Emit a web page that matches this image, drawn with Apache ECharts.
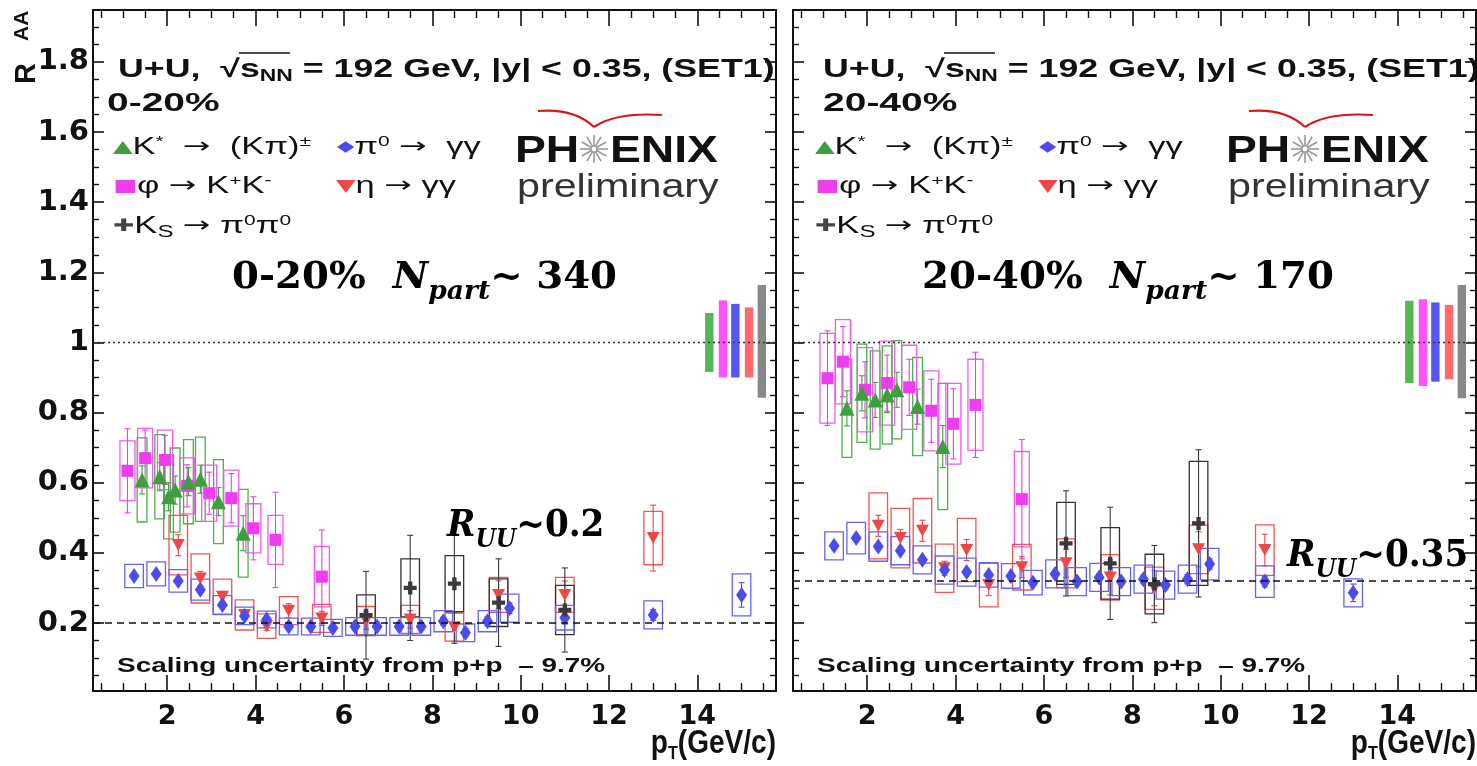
<!DOCTYPE html>
<html><head><meta charset="utf-8">
<script src="https://cdn.jsdelivr.net/npm/echarts@6/dist/echarts.min.js"></script>
<style>html,body{margin:0;padding:0;background:#fff}#c{width:1477px;height:766px}</style>
</head><body><div id="c"></div>
<script>
// ---------------- DATA ----------------
const ptTickLabels = [2, 4, 6, 8, 10, 12, 14];
const raaTickLabels = [0.2, 0.4, 0.6, 0.8, 1, 1.2, 1.4, 1.6, 1.8];
const refLines = [0.2, 0.32];          // dashed R_UU levels (0-20%, 20-40%)

// ---- 0-20% ----
const kstarX_a = [1.43, 1.83, 2.03, 2.18, 2.48, 2.75, 3.16, 3.72];
const kstarY_a = [0.608, 0.617, 0.56, 0.579, 0.603, 0.61, 0.546, 0.456];
const kstarStat_a = [0.04, 0.04, 0.04, 0.04, 0.04, 0.04, 0.04, 0.05];
const kstarSys_a = [0.12, 0.12, 0.12, 0.12, 0.12, 0.12, 0.12, 0.125];

const phiX_a = [1.1, 1.5, 1.95, 2.45, 2.95, 3.45, 3.95, 4.45, 5.5];
const phiY_a = [0.634, 0.67, 0.665, 0.591, 0.57, 0.556, 0.47, 0.437, 0.332];
const phiStat_a = [0.12, 0.08, 0.07, 0.06, 0.06, 0.07, 0.09, 0.136, 0.133];
const phiSys_a = [0.085, 0.085, 0.085, 0.08, 0.08, 0.08, 0.07, 0.07, 0.086];

const pi0X_a = [1.25, 1.75, 2.25, 2.75, 3.25, 3.75, 4.25, 4.75, 5.25, 5.75, 6.25, 6.75, 7.25, 7.75, 8.25, 8.75, 9.25, 9.75, 11, 13, 15];
const pi0Y_a = [0.334, 0.34, 0.32, 0.295, 0.251, 0.22, 0.21, 0.19, 0.19, 0.186, 0.19, 0.19, 0.19, 0.19, 0.205, 0.172, 0.205, 0.242, 0.215, 0.223, 0.28];
const pi0Stat_a = [0.004, 0.004, 0.004, 0.004, 0.004, 0.004, 0.005, 0.005, 0.006, 0.006, 0.007, 0.008, 0.009, 0.01, 0.011, 0.012, 0.013, 0.015, 0.018, 0.015, 0.035];
const pi0Sys_a = [0.033, 0.034, 0.032, 0.03, 0.027, 0.025, 0.024, 0.024, 0.024, 0.024, 0.025, 0.025, 0.025, 0.025, 0.03, 0.025, 0.03, 0.04, 0.035, 0.04, 0.06];

const etaX_a = [2.25, 2.75, 3.25, 3.75, 4.25, 4.75, 5.5, 6.5, 7.5, 8.5, 9.5, 11, 13];
const etaY_a = [0.422, 0.327, 0.275, 0.223, 0.191, 0.235, 0.213, 0.207, 0.21, 0.188, 0.28, 0.28, 0.442];
const etaStat_a = [0.03, 0.02, 0.015, 0.012, 0.012, 0.02, 0.02, 0.025, 0.025, 0.04, 0.04, 0.04, 0.094];
const etaSys_a = [0.085, 0.07, 0.05, 0.043, 0.035, 0.04, 0.04, 0.04, 0.04, 0.04, 0.05, 0.05, 0.076];

const ksX_a = [6.5, 7.5, 8.5, 9.5, 11];
const ksY_a = [0.222, 0.30, 0.312, 0.258, 0.237];
const ksStat_a = [0.125, 0.15, 0.17, 0.125, 0.12];
const ksSys_a = [0.058, 0.083, 0.08, 0.068, 0.07];

// global (normalisation) uncertainty bands near R=1
const globX_a = [14.27, 14.58, 14.86, 15.17, 15.46];
const globLo_a = [0.916, 0.90, 0.90, 0.90, 0.842];
const globHi_a = [1.084, 1.12, 1.11, 1.10, 1.164];

// ---- 20-40% ----
const kstarX_b = [1.54, 1.88, 2.18, 2.45, 2.67, 3.14, 3.71];
const kstarY_b = [0.812, 0.855, 0.836, 0.85, 0.865, 0.817, 0.703];
const kstarStat_b = [0.05, 0.05, 0.05, 0.05, 0.05, 0.05, 0.06];
const kstarSys_b = [0.14, 0.14, 0.14, 0.14, 0.14, 0.14, 0.18];

const phiX_b = [1.1, 1.45, 1.95, 2.45, 2.95, 3.45, 3.95, 4.45, 5.5];
const phiY_b = [0.898, 0.945, 0.865, 0.884, 0.872, 0.805, 0.768, 0.822, 0.553];
const phiStat_b = [0.135, 0.1, 0.08, 0.08, 0.08, 0.09, 0.1, 0.15, 0.17];
const phiSys_b = [0.128, 0.12, 0.12, 0.12, 0.12, 0.114, 0.115, 0.13, 0.136];

const pi0X_b = [1.25, 1.75, 2.25, 2.75, 3.25, 3.75, 4.25, 4.75, 5.25, 5.75, 6.25, 6.75, 7.25, 7.75, 8.25, 8.75, 9.25, 9.75, 11, 13];
const pi0Y_b = [0.42, 0.442, 0.418, 0.406, 0.38, 0.351, 0.345, 0.337, 0.334, 0.315, 0.34, 0.318, 0.33, 0.318, 0.325, 0.308, 0.325, 0.368, 0.318, 0.286];
const pi0Stat_b = [0.004, 0.004, 0.004, 0.004, 0.004, 0.005, 0.005, 0.005, 0.006, 0.006, 0.007, 0.008, 0.009, 0.01, 0.011, 0.012, 0.013, 0.015, 0.015, 0.025];
const pi0Sys_b = [0.04, 0.045, 0.042, 0.04, 0.04, 0.04, 0.04, 0.035, 0.035, 0.035, 0.04, 0.04, 0.04, 0.04, 0.04, 0.04, 0.04, 0.045, 0.045, 0.04];

const etaX_b = [2.25, 2.75, 3.25, 3.75, 4.25, 4.75, 5.5, 6.5, 7.5, 8.5, 9.5, 11];
const etaY_b = [0.477, 0.442, 0.463, 0.356, 0.408, 0.308, 0.359, 0.37, 0.33, 0.299, 0.41, 0.408];
const etaStat_b = [0.03, 0.025, 0.03, 0.02, 0.03, 0.03, 0.03, 0.04, 0.05, 0.05, 0.05, 0.045];
const etaSys_b = [0.094, 0.085, 0.092, 0.069, 0.09, 0.062, 0.065, 0.07, 0.065, 0.06, 0.069, 0.072];

const ksX_b = [6.5, 7.5, 8.5, 9.5];
const ksY_b = [0.427, 0.37, 0.311, 0.484];
const ksStat_b = [0.15, 0.16, 0.11, 0.21];
const ksSys_b = [0.117, 0.102, 0.085, 0.177];

const globX_b = [14.27, 14.58, 14.86, 15.17, 15.46];
const globLo_b = [0.884, 0.876, 0.888, 0.895, 0.841];
const globHi_b = [1.119, 1.123, 1.114, 1.107, 1.164];

// ---------------- STYLE / BUILD ----------------
const X_MIN = 0.32, X_MAX = 15.78, Y_MIN = 0.006, Y_MAX = 1.948;
const grids = [
  {left: 93, top: 10, width: 683, height: 681},
  {left: 793, top: 10, width: 683, height: 681}
];
const C = {
  kstar: '#3f9f3f', kstarBox: '#4fae4f',
  phi: '#ee3cee', phiBox: '#f25af2',
  pi0: '#4c4cee', pi0Box: '#6464f4',
  eta: '#f04646', etaBox: '#f25454',
  ks: '#3a3a3a', ksBox: '#333333'
};
const globColors = ['#55b655', '#ff52ff', '#5656f6', '#ff6a6a', '#888888'];

const xMinor = [], yMinor = [];
for (let i = 1; i <= 31; i++) { const v = i * 0.5; if (v % 2 !== 0) xMinor.push(v); }
for (let i = 1; i <= 38; i++) { const v = Math.round(i * 5) / 100; if (Math.round(v * 100) % 20 !== 0) yMinor.push(v); }

const XL_FONT = {fontFamily: 'DejaVu Sans', fontWeight: 'bold', fontSize: 27, color: '#111'};
const YL_FONT = {fontFamily: 'DejaVu Sans', fontWeight: 'bold', fontSize: 29, color: '#111'};
const xAxes = [], yAxes = [];
grids.forEach((g, gi) => {
  const base = {gridIndex: gi, type: 'value', min: X_MIN, max: X_MAX, splitLine: {show: false}};
  xAxes.push(Object.assign({}, base, {position: 'bottom',
    axisLine: {show: true, lineStyle: {color: '#111', width: 2}},
    axisTick: {show: true, inside: true, length: 16, customValues: ptTickLabels, lineStyle: {color: '#111', width: 1.6}},
    axisLabel: {show: true, customValues: ptTickLabels, margin: 12, ...XL_FONT}}));
  xAxes.push(Object.assign({}, base, {position: 'bottom', axisLine: {show: false},
    axisTick: {show: true, inside: true, length: 8, customValues: xMinor, lineStyle: {color: '#111', width: 1.4}},
    axisLabel: {show: false}}));
  xAxes.push(Object.assign({}, base, {position: 'top',
    axisLine: {show: true, lineStyle: {color: '#111', width: 2}},
    axisTick: {show: true, inside: true, length: 16, customValues: ptTickLabels, lineStyle: {color: '#111', width: 1.6}},
    axisLabel: {show: false}}));
  xAxes.push(Object.assign({}, base, {position: 'top', axisLine: {show: false},
    axisTick: {show: true, inside: true, length: 8, customValues: xMinor, lineStyle: {color: '#111', width: 1.4}},
    axisLabel: {show: false}}));
  const yb = {gridIndex: gi, type: 'value', min: Y_MIN, max: Y_MAX, splitLine: {show: false}};
  yAxes.push(Object.assign({}, yb, {position: 'left',
    axisLine: {show: true, lineStyle: {color: '#111', width: 2}},
    axisTick: {show: true, inside: true, length: 11, customValues: raaTickLabels, lineStyle: {color: '#111', width: 1.6}},
    axisLabel: {show: gi === 0, customValues: raaTickLabels, margin: 4, ...YL_FONT}}));
  yAxes.push(Object.assign({}, yb, {position: 'left', axisLine: {show: false},
    axisTick: {show: true, inside: true, length: 6, customValues: yMinor, lineStyle: {color: '#111', width: 1.4}},
    axisLabel: {show: false}}));
  yAxes.push(Object.assign({}, yb, {position: 'right',
    axisLine: {show: true, lineStyle: {color: '#111', width: 2}},
    axisTick: {show: true, inside: true, length: 11, customValues: raaTickLabels, lineStyle: {color: '#111', width: 1.6}},
    axisLabel: {show: false}}));
  yAxes.push(Object.assign({}, yb, {position: 'right', axisLine: {show: false},
    axisTick: {show: true, inside: true, length: 6, customValues: yMinor, lineStyle: {color: '#111', width: 1.4}},
    axisLabel: {show: false}}));
});

function zip4(x, y, s, e) { return x.map((v, i) => [v, y[i], s[i], e[i]]); }

function boxSeries(gi, data, hw, color, boxColor) {
  return {
    type: 'custom', xAxisIndex: gi * 4, yAxisIndex: gi * 4, z: 2, clip: true, silent: true,
    data: data,
    renderItem: function (params, api) {
      const x = api.value(0), y = api.value(1), st = api.value(2), sy = api.value(3);
      const a = api.coord([x - hw, y + sy]), b = api.coord([x + hw, y - sy]);
      const s1 = api.coord([x, y + st]), s2 = api.coord([x, y - st]);
      return {type: 'group', children: [
        {type: 'rect', shape: {x: a[0], y: a[1], width: b[0] - a[0], height: b[1] - a[1]},
          style: {fill: 'none', stroke: boxColor, lineWidth: 1.3}},
        {type: 'line', shape: {x1: s1[0], y1: s1[1], x2: s2[0], y2: s2[1]}, style: {stroke: color, lineWidth: 1.1}},
        {type: 'line', shape: {x1: s1[0] - 3, y1: s1[1], x2: s1[0] + 3, y2: s1[1]}, style: {stroke: color, lineWidth: 1.1}},
        {type: 'line', shape: {x1: s2[0] - 3, y1: s2[1], x2: s2[0] + 3, y2: s2[1]}, style: {stroke: color, lineWidth: 1.1}}
      ]};
    }
  };
}
function markerSeries(gi, x, y, symbol, size, color, rotate) {
  return {
    type: 'scatter', xAxisIndex: gi * 4, yAxisIndex: gi * 4, z: 4, silent: true,
    data: x.map((v, i) => [v, y[i]]), symbol: symbol, symbolSize: size, symbolRotate: rotate || 0,
    itemStyle: {color: color, opacity: 1}
  };
}
function globSeries(gi, x, lo, hi) {
  return {
    type: 'custom', xAxisIndex: gi * 4, yAxisIndex: gi * 4, z: 3, silent: true,
    data: x.map((v, i) => [v, lo[i], hi[i]]),
    renderItem: function (params, api) {
      const a = api.coord([api.value(0) - 0.095, api.value(2)]), b = api.coord([api.value(0) + 0.095, api.value(1)]);
      return {type: 'rect', shape: {x: a[0], y: a[1], width: b[0] - a[0], height: b[1] - a[1]},
        style: {fill: globColors[params.dataIndex]}};
    }
  };
}
function refSeries(gi, level) {
  return {
    type: 'line', xAxisIndex: gi * 4, yAxisIndex: gi * 4, data: [], silent: true,
    markLine: {symbol: 'none', silent: true, label: {show: false}, animation: false,
      data: [
        {yAxis: level, lineStyle: {type: [7, 5], color: '#111', width: 1.6}},
        {yAxis: 1, lineStyle: {type: [2, 3], color: '#333', width: 1.4}}
      ]}
  };
}
const CROSS = 'path://M4,0H8V4H12V8H8V12H4V8H0V4H4Z';
function panelSeries(gi, d) {
  return [
    refSeries(gi, refLines[gi]),
    boxSeries(gi, zip4(d.kx, d.ky, d.kst, d.ksy), 0.11, C.kstar, C.kstarBox),
    boxSeries(gi, zip4(d.px, d.py, d.pst, d.psy), 0.17, C.phi, C.phiBox),
    boxSeries(gi, zip4(d.ex, d.ey, d.est, d.esy), 0.21, C.eta, C.etaBox),
    boxSeries(gi, zip4(d.sx, d.sy, d.sst, d.ssy), 0.21, C.ks, C.ksBox),
    boxSeries(gi, zip4(d.nx, d.ny, d.nst, d.nsy), 0.21, C.pi0, C.pi0Box),
    globSeries(gi, d.gx, d.glo, d.ghi),
    markerSeries(gi, d.px, d.py, 'rect', [12, 12], C.phi),
    markerSeries(gi, d.kx, d.ky, 'triangle', [15, 15], C.kstar),
    markerSeries(gi, d.ex, d.ey, 'triangle', [13, 12], C.eta, 180),
    markerSeries(gi, d.nx, d.ny, 'diamond', [11, 16], C.pi0),
    markerSeries(gi, d.sx, d.sy, CROSS, [13, 13], C.ks)
  ];
}
const series = [].concat(
  panelSeries(0, {kx: kstarX_a, ky: kstarY_a, kst: kstarStat_a, ksy: kstarSys_a,
    px: phiX_a, py: phiY_a, pst: phiStat_a, psy: phiSys_a,
    nx: pi0X_a, ny: pi0Y_a, nst: pi0Stat_a, nsy: pi0Sys_a,
    ex: etaX_a, ey: etaY_a, est: etaStat_a, esy: etaSys_a,
    sx: ksX_a, sy: ksY_a, sst: ksStat_a, ssy: ksSys_a,
    gx: globX_a, glo: globLo_a, ghi: globHi_a}),
  panelSeries(1, {kx: kstarX_b, ky: kstarY_b, kst: kstarStat_b, ksy: kstarSys_b,
    px: phiX_b, py: phiY_b, pst: phiStat_b, psy: phiSys_b,
    nx: pi0X_b, ny: pi0Y_b, nst: pi0Stat_b, nsy: pi0Sys_b,
    ex: etaX_b, ey: etaY_b, est: etaStat_b, esy: etaSys_b,
    sx: ksX_b, sy: ksY_b, sst: ksStat_b, ssy: ksSys_b,
    gx: globX_b, glo: globLo_b, ghi: globHi_b})
);

// ---------------- TEXT ----------------
const SANS = 'Liberation Sans';
const headRich = {
  b: {fontFamily: SANS, fontWeight: 'bold', fontSize: 25, fill: '#111', lineHeight: 30, verticalAlign: 'top'},
  sub: {fontFamily: SANS, fontWeight: 'bold', fontSize: 16, fill: '#111', verticalAlign: 'top', padding: [11, 0, 0, 0]}
};
const centRich = {
  b: {fontFamily: SANS, fontWeight: 'bold', fontSize: 26, fill: '#111', lineHeight: 30, verticalAlign: 'top'}
};
const legRich = {
  t: {fontFamily: SANS, fontSize: 23, fill: '#111', lineHeight: 28, verticalAlign: 'top'},
  ar: {fontFamily: 'DejaVu Sans', fontSize: 22, fill: '#111', lineHeight: 28, verticalAlign: 'top'},
  sup: {fontFamily: SANS, fontSize: 14, fill: '#111', verticalAlign: 'top', padding: [-1, 0, 0, 0]},
  sub: {fontFamily: SANS, fontSize: 16, fill: '#111', verticalAlign: 'top', padding: [10, 0, 0, 0]},
  g: {fontFamily: 'DejaVu Sans', fontSize: 17, fill: C.kstar, verticalAlign: 'top', padding: [3, 0, 0, 0]},
  m: {fontFamily: 'DejaVu Sans', fontSize: 17, fill: C.phi, verticalAlign: 'top', padding: [3, 0, 0, 0]},
  n: {fontFamily: 'DejaVu Sans', fontSize: 15, fill: C.pi0, verticalAlign: 'top', padding: [4, 0, 0, 0]},
  r: {fontFamily: 'DejaVu Sans', fontSize: 17, fill: C.eta, verticalAlign: 'top', padding: [3, 0, 0, 0]},
  k: {fontFamily: 'DejaVu Sans', fontSize: 17, fill: '#444', verticalAlign: 'top', padding: [3, 0, 0, 0]}
};
const SERIF = 'DejaVu Serif';
const serifRich = {
  r: {fontFamily: SERIF, fontWeight: 'bold', fontSize: 38, fill: '#000', lineHeight: 46, verticalAlign: 'top'},
  i: {fontFamily: SERIF, fontWeight: 'bold', fontStyle: 'italic', fontSize: 38, fill: '#000', lineHeight: 46, verticalAlign: 'top'},
  is: {fontFamily: SERIF, fontWeight: 'bold', fontStyle: 'italic', fontSize: 26, fill: '#000', verticalAlign: 'top', padding: [20, 0, 0, 0]}
};

function txt(x, y, text, rich, sx, extra) {
  return Object.assign({type: 'text', x: x, y: y, scaleX: sx || 1, z: 10, silent: true,
    style: {text: text, rich: rich, x: 0, y: 0, align: 'left', verticalAlign: 'top'}}, extra || {});
}
const cents = ['0-20%', '20-40%'];
const npart = ['340', '170'];
const ruu = ['0.2', '0.35'];
const graphics = [];
[0, 1].forEach(p => {
  const dx = p * 700;
  const lx = dx + 113 + p * 2;
  const tx = dx + 118 + p * 5;
  graphics.push(txt(tx, 58, '{b|U+U,  √s}{sub|NN}{b| = 192 GeV, |y| < 0.35, (SET1)}', headRich, 1.43));
  graphics.push({type: 'line', z: 10, silent: true, shape: {x1: tx + 121, y1: 53, x2: tx + 172, y2: 53}, style: {stroke: '#111', lineWidth: 1.3}});
  graphics.push(txt(dx + (p ? 823 - 700 : 107), 91, '{b|' + cents[p] + '}', centRich, 1.5));
  graphics.push(txt(lx, 136, '{g|▲}{t|K}{sup|*}{t|  }{ar|→}{t|  (Kπ)}{sup|±}', legRich, 1.5));
  graphics.push(txt(lx + 224, 136, '{n|◆}{t|π}{sup|0}{t| }{ar|→}{t|  γγ}', legRich, 1.5));
  graphics.push(txt(lx, 175, '{m|■}{t|φ }{ar|→}{t| K}{sup|+}{t|K}{sup|-}', legRich, 1.5));
  graphics.push(txt(lx + 223, 175, '{r|▼}{t|η }{ar|→}{t| γγ}', legRich, 1.5));
  graphics.push(txt(lx, 215, '{k|✚}{t|K}{sub|S}{t| }{ar|→}{t| π}{sup|0}{t|π}{sup|0}', legRich, 1.5));
  // PHENIX logo
  const lgx = p ? 1226 - 700 : 515;
  graphics.push({type: 'text', x: dx + lgx, y: 133, scaleX: 1.25, z: 10, silent: true,
    style: {text: 'PH', x: 0, y: 0, fontFamily: SANS, fontWeight: 'bold', fontSize: 37, fill: '#111', verticalAlign: 'top'}});
  graphics.push({type: 'text', x: dx + lgx + 95, y: 133, scaleX: 1.25, z: 10, silent: true,
    style: {text: 'ENIX', x: 0, y: 0, fontFamily: SANS, fontWeight: 'bold', fontSize: 37, fill: '#111', verticalAlign: 'top'}});
  const cx = dx + lgx + 79, cy = 149;
  for (let k = 0; k < 12; k++) {
    const ang = k * Math.PI / 6;
    graphics.push({type: 'line', z: 10, silent: true,
      shape: {x1: cx + 3 * Math.cos(ang), y1: cy + 3 * Math.sin(ang), x2: cx + 14 * Math.cos(ang), y2: cy + 14 * Math.sin(ang)},
      style: {stroke: '#999', lineWidth: 1.6}});
  }
  graphics.push({type: 'circle', z: 10, silent: true, shape: {cx: cx, cy: cy, r: 3}, style: {fill: 'none', stroke: '#999', lineWidth: 1.2}});
  graphics.push({type: 'bezierCurve', z: 10, silent: true,
    shape: {x1: cx - 56, y1: 111, cpx1: cx - 20, cpy1: 108, x2: cx, y2: 127},
    style: {fill: 'none', stroke: '#d81818', lineWidth: 2.2}});
  graphics.push({type: 'bezierCurve', z: 10, silent: true,
    shape: {x1: cx, y1: 127, cpx1: cx + 22, cpy1: 112, x2: cx + 68, y2: 115},
    style: {fill: 'none', stroke: '#d81818', lineWidth: 2.2}});
  graphics.push({type: 'text', x: dx + lgx + 2, y: 171, scaleX: 1.25, z: 10, silent: true,
    style: {text: 'preliminary', x: 0, y: 0, fontFamily: SANS, fontSize: 33, fill: '#333', verticalAlign: 'top'}});
  // overlay annotations
  graphics.push(txt(dx + 232 + (p ? -10 : 0), 259, '{r|' + cents[p] + '  }{i|N}{is|part}{r|~ ' + npart[p] + '}', serifRich, 1.02));
  graphics.push(txt(p ? 1287 : 447, p ? 537 : 507, '{i|R}{is|UU}{r|~' + ruu[p] + '}', serifRich, 0.9));
  // scaling uncertainty
  graphics.push(txt(dx + 117, 656, '{b|Scaling uncertainty from p+p  – 9.7%}',
    {b: {fontFamily: SANS, fontWeight: 'bold', fontSize: 21, fill: '#111'}}, 1.33));
  // x title
  graphics.push({type: 'text', x: dx + 776, y: 727, scaleX: 0.85, z: 10, silent: true,
    style: {text: '{b|p}{s|T}{b|(GeV/c)}', x: 0, y: 0, align: 'right', verticalAlign: 'top',
      rich: {b: {fontFamily: SANS, fontWeight: 'bold', fontSize: 33, fill: '#111', lineHeight: 38, verticalAlign: 'top'},
        s: {fontFamily: SANS, fontWeight: 'bold', fontSize: 19, fill: '#111', verticalAlign: 'top', padding: [17, 0, 0, 0]}}}});
});
// y title (rotated, reading upwards)
graphics.push({type: 'text', x: 41, y: 84, rotation: Math.PI / 2, z: 10, silent: true,
  style: {text: 'R', x: 0, y: 0, align: 'left', verticalAlign: 'bottom',
    fontFamily: SANS, fontWeight: 'bold', fontSize: 29, fill: '#111'}});
graphics.push({type: 'text', x: 33, y: 41, rotation: Math.PI / 2, z: 10, silent: true,
  style: {text: 'AA', x: 0, y: 0, align: 'left', verticalAlign: 'bottom',
    fontFamily: SANS, fontWeight: 'bold', fontSize: 21, fill: '#111'}});

const chart = echarts.init(document.getElementById('c'), null, {renderer: 'canvas'});
chart.setOption({
  animation: false,
  backgroundColor: '#fff',
  grid: grids.map(g => Object.assign({containLabel: false}, g)),
  xAxis: xAxes,
  yAxis: yAxes,
  series: series,
  graphic: graphics
});
</script></body></html>
